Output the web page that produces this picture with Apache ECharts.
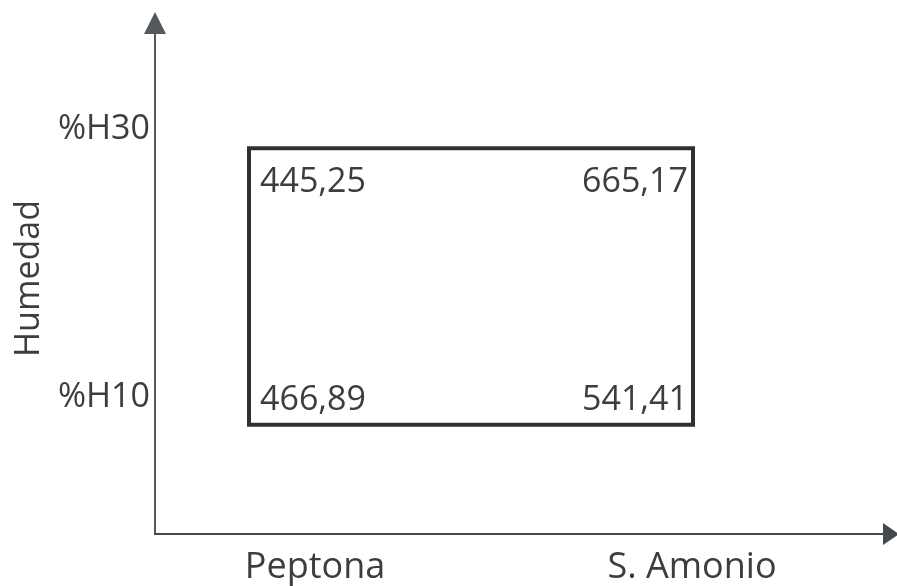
<!DOCTYPE html>
<html>
<head>
<meta charset="utf-8">
<script src="https://cdn.jsdelivr.net/npm/echarts@6/dist/echarts.min.js"></script>
<style>
html,body{margin:0;padding:0;background:#fff;}
#chart{width:897px;height:586px;}
</style>
</head>
<body>
<div id="chart"></div>
<script>
// ---- data ----
var categories = ['Peptona', 'S. Amonio'];
var humidity = ['%H10', '%H30'];
// values[humidityIndex][categoryIndex]
var values = [
  [466.89, 541.41],
  [445.25, 665.17]
];

// ---- layout (axis units, not data) ----
var catPos = [160, 537];        // x position of category labels
var humPos = [137, 407];        // y position of humidity labels
var textX = [105, 533];         // anchor x of value texts (left / right aligned)
var textY = [134, 354];         // y of value texts
var boxX = [94, 538], boxY = [110, 388];

var fontFam = '"Open Sans", "DejaVu Sans", sans-serif';
var txtColor = '#3d3d3d';

function fmt(v){ return v.toFixed(2).replace('.', ','); }

var scatterData = [];
for (var h = 0; h < humidity.length; h++) {
  for (var c = 0; c < categories.length; c++) {
    scatterData.push({
      value: [textX[c], textY[h], values[h][c]],
      label: { position: c === 0 ? 'right' : 'left' }
    });
  }
}

var chart = echarts.init(document.getElementById('chart'));
chart.setOption({
  animation: false,
  backgroundColor: '#fff',
  grid: { left: 155, right: 6, top: 23, bottom: 49 },
  xAxis: {
    type: 'value', min: 0, max: 736,
    axisLine: { show: true, lineStyle: { color: '#45484d', width: 2 }, symbol: ['none', 'triangle'], symbolSize: [22, 16] },
    axisTick: { show: false },
    splitLine: { show: false },
    axisLabel: {
      customValues: catPos,
      margin: 16,
      fontFamily: fontFam, fontSize: 36, color: txtColor,
      formatter: function (v) { var i = catPos.indexOf(v); return i >= 0 ? categories[i] : ''; }
    }
  },
  yAxis: {
    type: 'value', min: 0, max: 514,
    name: 'Humedad', nameLocation: 'middle', nameGap: 109,
    nameTextStyle: { fontFamily: fontFam, fontSize: 34, color: txtColor },
    axisLine: { show: true, lineStyle: { color: '#55585d', width: 2 }, symbol: ['none', 'triangle'], symbolSize: [22, 22] },
    axisTick: { show: false },
    splitLine: { show: false },
    axisLabel: {
      customValues: humPos,
      margin: 5,
      fontFamily: fontFam, fontSize: 34, color: txtColor,
      formatter: function (v) { var i = humPos.indexOf(v); return i >= 0 ? humidity[i] : ''; }
    }
  },
  series: [
    {
      type: 'custom',
      silent: true,
      data: [[0]],
      renderItem: function (params, api) {
        var p0 = api.coord([boxX[0], boxY[1]]);
        var p1 = api.coord([boxX[1], boxY[0]]);
        return {
          type: 'rect',
          shape: { x: p0[0], y: p0[1], width: p1[0] - p0[0], height: p1[1] - p0[1] },
          style: { fill: 'none', stroke: '#2e3035', lineWidth: 4 }
        };
      }
    },
    {
      type: 'scatter',
      symbolSize: 0,
      silent: true,
      itemStyle: { opacity: 1 },
      data: scatterData,
      label: {
        show: true, distance: 0,
        fontFamily: fontFam, fontSize: 34, color: txtColor,
        formatter: function (p) { return fmt(p.value[2]); }
      }
    }
  ]
});
</script>
</body>
</html>
